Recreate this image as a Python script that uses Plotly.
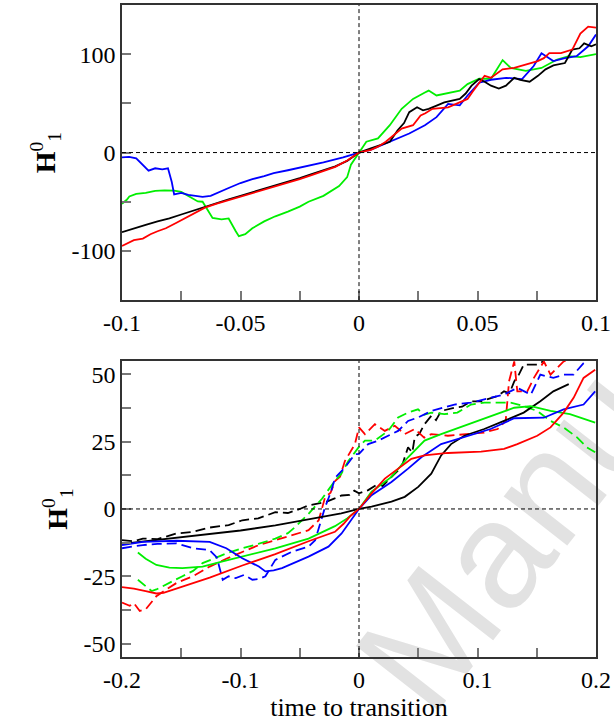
import plotly.graph_objects as go

# ---------------- top panel data ----------------
top_black_x = [-0.1, -0.095, -0.09, -0.085, -0.08, -0.075, -0.07, -0.065, -0.06, -0.055, -0.05, -0.045, -0.04, -0.035, -0.03, -0.025, -0.02, -0.015, -0.01, -0.005, 0,
               0.005, 0.01, 0.013, 0.0163, 0.019, 0.0212, 0.0245, 0.027, 0.0294, 0.033, 0.036, 0.0425, 0.045, 0.0475, 0.0507, 0.053, 0.0557, 0.059, 0.062, 0.0655,
               0.068, 0.072, 0.0755, 0.0787, 0.082, 0.0869, 0.088, 0.09, 0.093, 0.095, 0.098, 0.1]
top_black_y = [-81, -77, -73.5, -70, -67, -63, -59, -55, -51, -47.5, -44, -40.5, -37, -33, -29.5, -26, -22, -18, -14, -8.5, 0,
               4.3, 8, 11, 22.7, 30, 41, 46, 43, 44.5, 48, 51, 54.5, 60, 68, 74.6, 72, 68, 65, 68, 76,
               74, 72, 78, 84.6, 88.6, 91, 96, 104.7, 106, 111, 108, 110]

top_red_x = [-0.1, -0.097, -0.095, -0.0912, -0.088, -0.085, -0.0815, -0.0772, -0.073, -0.069, -0.065, -0.06, -0.055, -0.05, -0.045, -0.04, -0.035, -0.03, -0.025, -0.02, -0.015, -0.01, -0.005, 0,
             0.005, 0.008, 0.0113, 0.0146, 0.018, 0.0228, 0.026, 0.028, 0.031, 0.0376, 0.0425, 0.0458, 0.048, 0.0507, 0.053, 0.0557, 0.058, 0.0606, 0.0655, 0.0704,
             0.0754, 0.078, 0.0803, 0.0852, 0.09, 0.0934, 0.0967, 0.1]
top_red_y = [-95, -91, -89, -87.5, -83, -80, -77, -71.6, -66, -60.5, -56, -52, -48.5, -45, -41.5, -38, -34.5, -31, -27, -23, -19, -14.5, -8, 0,
             2.7, 6, 11, 17.7, 24.4, 27.8, 37.8, 40, 44.5, 46, 51, 54.5, 62, 71, 78, 76, 80, 84.6, 86, 89.6,
             93, 96, 101, 101, 104.7, 121, 128, 127]

top_green_x = [-0.1, -0.098, -0.0969, -0.094, -0.09, -0.086, -0.082, -0.078, -0.075, -0.0716, -0.068, -0.066, -0.064, -0.0618, -0.058, -0.055, -0.052, -0.0507,
               -0.048, -0.045, -0.04, -0.0353, -0.03, -0.025, -0.0213, -0.015, -0.0084, -0.005, -0.0034, 0,
               0.0031, 0.008, 0.013, 0.018, 0.0228, 0.0278, 0.0294, 0.0327, 0.0376, 0.0425, 0.0458, 0.0507, 0.0557, 0.0606, 0.064, 0.0704, 0.077, 0.0836, 0.0885, 0.0934, 0.1]
top_green_y = [-52, -48, -44.6, -42, -41, -39, -38.5, -38.8, -40, -44.7, -49.7, -50, -58, -66.5, -68, -67, -80, -85,
               -83, -77, -70, -64.8, -60, -55, -50, -44, -34, -25, -12.4, 0,
               11, 14.4, 27.8, 44.5, 54.5, 61, 63, 58, 60.5, 63, 69.6, 75, 75, 94, 86, 83, 86, 94.6, 98, 97, 100]

top_blue_x = [-0.1, -0.097, -0.094, -0.0915, -0.0888, -0.086, -0.083, -0.0806, -0.079, -0.078, -0.075, -0.072, -0.069, -0.066, -0.0626, -0.06, -0.055, -0.05,
              -0.045, -0.04, -0.036, -0.03, -0.025, -0.02, -0.015, -0.0067, 0,
              0.0048, 0.013, 0.0212, 0.0278, 0.0327, 0.0376, 0.0425, 0.0458, 0.0507, 0.0557, 0.0621, 0.0688, 0.0737, 0.077, 0.082, 0.0869, 0.0918, 0.0967, 0.1]
top_blue_y = [-5, -4.5, -6, -12, -18.4, -16, -17, -16, -30, -42.5, -41, -43, -44, -45, -44, -41, -36, -31,
              -27, -24, -21, -18, -15.5, -12.4, -10, -5, 0,
              2.7, 11, 19.4, 27.8, 36, 49.5, 48, 58, 71, 74, 76, 74.6, 88, 101, 93, 96, 98, 108, 120]

# ---------------- bottom panel data ----------------
bot_black_x = [-0.2, -0.18, -0.16, -0.14, -0.126, -0.1, -0.0706, -0.05, -0.0286, -0.015, 0, 0.0106, 0.0274, 0.0386, 0.05, 0.061, 0.0693, 0.0777, 0.0889,
               0.1057, 0.1224, 0.139, 0.153, 0.164, 0.177]
bot_black_y = [-13, -12, -11, -10.2, -9.5, -8, -6.1, -4.5, -2.8, -1.6, 0, 0.9, 2.7, 4.5, 8.2, 13.1, 19.9, 24.1, 27.2,
               29.7, 32.7, 35.8, 40, 43.7, 46.4]

bot_red_x = [-0.2, -0.19, -0.18, -0.171, -0.165, -0.15, -0.126, -0.0985, -0.0706, -0.0426, -0.0203, -0.013, -0.007, 0, 0.0106, 0.0218, 0.033, 0.0442, 0.0553,
             0.075, 0.103, 0.1224, 0.1336, 0.1504, 0.1616, 0.1727, 0.1811, 0.1895, 0.1993]
bot_red_y = [-29, -29.6, -30.5, -31.4, -31.2, -29, -25.5, -21, -16.8, -12, -8.5, -5.5, -2.5, 0, 5.8, 11.3, 15, 18.6, 19.9,
             20.8, 21.3, 22.3, 24.1, 27.2, 30.3, 35.8, 41.3, 48.7, 51.7]

bot_green_x = [-0.1866, -0.18, -0.171, -0.16, -0.149, -0.132, -0.115, -0.0985, -0.0706, -0.0426, -0.0203, -0.01, 0, 0.0106, 0.0274, 0.0414, 0.0553, 0.0693,
               0.0889, 0.111, 0.131, 0.145, 0.1616, 0.178, 0.1993]
bot_green_y = [-16.2, -18.5, -20.8, -21.8, -22, -21.4, -19.5, -17.7, -14.6, -11, -6.4, -3.5, 0, 6.4, 11.9, 19.2, 25.4, 27.8,
               30.9, 34.6, 37.6, 38.2, 36.4, 35.2, 32.1]

bot_blue_x = [-0.2, -0.1824, -0.154, -0.126, -0.112, -0.0985, -0.0845, -0.079, -0.072, -0.065, -0.0426, -0.0258, -0.0147, -0.007, 0, 0.0106, 0.0274, 0.0414,
              0.0526, 0.0693, 0.0889, 0.111, 0.131, 0.156, 0.1727, 0.1895, 0.1993]
bot_blue_y = [-13.4, -12.2, -11.8, -12.2, -14.6, -18.3, -21.4, -23.2, -22.8, -22, -17.7, -14, -9.1, -4.5, 0, 5.1, 10, 15,
              19.2, 24.1, 26.6, 29.7, 33.7, 33.9, 37, 38.8, 43.7]

bot_black_d_x = [-0.2, -0.19, -0.1824, -0.17, -0.154, -0.14, -0.126, -0.11, -0.0985, -0.085, -0.0706, -0.06, -0.05, -0.0426, -0.035, -0.0286, -0.02, -0.0147,
                 -0.008, -0.004, 0, 0.0078, 0.0162, 0.02, 0.0246, 0.033, 0.037, 0.0414, 0.045, 0.047, 0.051, 0.0553, 0.061, 0.065, 0.0693, 0.0805, 0.087,
                 0.0945, 0.103, 0.111, 0.117, 0.1224, 0.127, 0.131, 0.135, 0.139, 0.1504, 0.156]
bot_black_d_y = [-11.6, -12, -11, -11.2, -9.1, -8.5, -6.9, -6, -4.2, -3.5, -1.2, -1.5, 0, 1.3, 2, 2.5, 4, 5,
                 5.2, 6.8, 5.8, 7, 9.4, 8.5, 10.7, 14.3, 17, 22.9, 21, 26.6, 28, 31.5, 34.6, 33, 36.4, 37.6, 38,
                 40, 40, 41.3, 42, 43.7, 43, 47.4, 50, 53.6, 53.6, 55]

bot_red_d_x = [-0.2, -0.1935, -0.19, -0.185, -0.18, -0.176, -0.171, -0.163, -0.154, -0.14, -0.126, -0.112, -0.0985, -0.085, -0.0706, -0.055, -0.0426, -0.034,
               -0.0286, -0.024, -0.02, -0.016, -0.0119, -0.0035, 0, 0.005, 0.0134, 0.0218, 0.0302, 0.0386, 0.047, 0.055, 0.061, 0.075, 0.0889, 0.1057,
               0.117, 0.1238, 0.1266, 0.131, 0.1336, 0.142, 0.1476, 0.156, 0.1616, 0.1727, 0.18]
bot_red_d_y = [-34.8, -36, -35, -37.9, -37.3, -35, -32.4, -30, -27.5, -25, -21.4, -18.5, -15.9, -13.5, -11.6, -9.5, -7.9, -4.2,
               4.4, 6, 10.5, 12, 17.8, 24, 30.3, 27.8, 31.5, 29, 30.9, 27.8, 29.7, 26.5, 27.8, 27.2, 27.8, 28.4,
               29.7, 32.7, 47.4, 54.8, 43.7, 43.7, 48.7, 54.8, 49.9, 54.8, 56]

bot_green_d_x = [-0.1866, -0.18, -0.175, -0.171, -0.165, -0.16, -0.149, -0.14, -0.132, -0.12, -0.112, -0.0985, -0.085, -0.0706, -0.06, -0.0538, -0.0426,
                 -0.0314, -0.0203, -0.015, -0.009, -0.0007, 0.005, 0.0134, 0.0246, 0.033, 0.0414, 0.0498, 0.055, 0.061, 0.072, 0.083, 0.0945, 0.1057,
                 0.117, 0.128, 0.139, 0.1504, 0.1616, 0.1727, 0.184, 0.1923, 0.1993]
bot_green_d_y = [-26.3, -28.7, -30.5, -29.9, -28.5, -27.5, -25, -23, -20.1, -18, -16.5, -14.6, -13, -11, -9, -6.7, -1.8,
                 3.7, 10.5, 13, 17.8, 22.7, 25.4, 25.4, 29, 34, 35.8, 37, 35, 35.8, 35.2, 35.8, 38.8, 39.5,
                 39.5, 39.5, 38.2, 36.4, 32.7, 30.3, 26.6, 22.9, 21.1]

bot_blue_d_x = [-0.2, -0.1824, -0.17, -0.154, -0.14, -0.126, -0.12, -0.115, -0.11, -0.104, -0.097, -0.09, -0.084, -0.079, -0.0706, -0.0566, -0.0426, -0.037,
                -0.0286, -0.024, -0.02, -0.0119, -0.0035, 0, 0.0078, 0.0162, 0.0246, 0.033, 0.0414, 0.0498, 0.061, 0.072, 0.0805, 0.0945, 0.111, 0.1224,
                0.1336, 0.145, 0.153, 0.164, 0.1727, 0.181, 0.1895, 0.195]
bot_blue_d_y = [-14.6, -13.4, -13, -12.8, -14.6, -15.3, -18, -26.3, -25, -25.7, -24.5, -26.3, -26, -25, -18.9, -15.9, -14, -11.6,
                0.7, 6, 11.7, 15.4, 20.3, 20.5, 24.1, 25.4, 27.2, 29, 32.7, 34, 36.4, 37.6, 38.8, 39.5, 41.3, 42.5,
                45, 42.5, 49.9, 48.7, 49.9, 49.9, 54.2, 56]

# ticks (labelled majors; unlabelled minor ticks every half step)
top_x_ticks = [-0.1, -0.05, 0, 0.05, 0.1]
top_x_labels = ["-0.1", "-0.05", "0", "0.05", "0.1"]
top_y_ticks = [-100, 0, 100]
top_y_labels = ["-100", "0", "100"]
bot_x_ticks = [-0.2, -0.1, 0, 0.1, 0.2]
bot_x_labels = ["-0.2", "-0.1", "0", "0.1", "0.2"]
bot_y_ticks = [-50, -25, 0, 25, 50]
bot_y_labels = ["-50", "-25", "0", "25", "50"]

BLACK, RED, GREEN, BLUE = "#000000", "#ff0000", "#00ee00", "#0000ff"
FONT = "Liberation Serif"

fig = go.Figure()

def add(x, y, color, xa, ya, dash="solid"):
    fig.add_trace(go.Scatter(x=x, y=y, mode="lines", xaxis=xa, yaxis=ya,
                             line=dict(color=color, width=1.8, dash=dash), showlegend=False, hoverinfo="skip"))

add(top_green_x, top_green_y, GREEN, "x", "y")
add(top_blue_x, top_blue_y, BLUE, "x", "y")
add(top_black_x, top_black_y, BLACK, "x", "y")
add(top_red_x, top_red_y, RED, "x", "y")

D = "10px,5px"
add(bot_black_d_x, bot_black_d_y, BLACK, "x2", "y2", D)
add(bot_red_d_x, bot_red_d_y, RED, "x2", "y2", D)
add(bot_green_d_x, bot_green_d_y, GREEN, "x2", "y2", D)
add(bot_blue_d_x, bot_blue_d_y, BLUE, "x2", "y2", D)
add(bot_black_x, bot_black_y, BLACK, "x2", "y2")
add(bot_green_x, bot_green_y, GREEN, "x2", "y2")
add(bot_blue_x, bot_blue_y, BLUE, "x2", "y2")
add(bot_red_x, bot_red_y, RED, "x2", "y2")

def axis_common(minor_step):
    return dict(showline=True, mirror=True, linecolor="#333333", linewidth=1.5,
                ticks="inside", ticklen=9, tickwidth=1.5, tickcolor="#777777",
                showgrid=False, zeroline=False, tickmode="array",
                tickfont=dict(family=FONT, size=24, color="#000000"),
                minor=dict(ticks="inside", ticklen=9, tickwidth=1.5, tickcolor="#777777",
                           dtick=minor_step, tick0=0, showgrid=False))

ytitle = dict(text="<b>H</b><sup>0</sup><sub>1</sub>", font=dict(family=FONT, size=28, color="#000000"), standoff=8)

fig.update_layout(
    width=614, height=727,
    margin=dict(l=122, r=15, t=3, b=70),
    paper_bgcolor="white", plot_bgcolor="rgba(0,0,0,0)",
    xaxis=dict(domain=[0, 1], anchor="y", range=[-0.1, 0.1], tickvals=top_x_ticks, ticktext=top_x_labels, **axis_common(0.025)),
    yaxis=dict(domain=[0.5474, 1], anchor="x", range=[-150, 150], tickvals=top_y_ticks, ticktext=top_y_labels, title=ytitle, **axis_common(50)),
    xaxis2=dict(domain=[0, 1], anchor="y2", range=[-0.2, 0.2], tickvals=bot_x_ticks, ticktext=bot_x_labels,
                title=dict(text="time to transition", font=dict(family=FONT, size=26, color="#000000"), standoff=4), **axis_common(0.05)),
    yaxis2=dict(domain=[0, 0.4541], anchor="x2", range=[-55, 55], tickvals=bot_y_ticks, ticktext=bot_y_labels, title=ytitle, **axis_common(12.5)),
)

# dashed zero lines
for xa, ya in (("x", "y"), ("x2", "y2")):
    fig.add_shape(type="line", xref=xa + " domain", yref=ya, x0=0, x1=1, y0=0, y1=0,
                  line=dict(color="#000000", width=1, dash="4px,3px"))
    fig.add_shape(type="line", xref=xa, yref=ya + " domain", x0=0, x1=0, y0=0, y1=1,
                  line=dict(color="#000000", width=1, dash="4px,3px"))

# watermark
fig.add_shape(type="line", xref="paper", yref="paper", x0=0.978, y0=0.38, x1=1.068, y1=0.451,
              line=dict(color="rgba(0,0,0,0)", width=1), layer="below",
              label=dict(text="Manuscript", textposition="middle", xanchor="center", yanchor="middle",
                         textangle=-52, font=dict(family="Liberation Sans", size=152, color="#e2e2e2")))

fig.write_html("out.html")
